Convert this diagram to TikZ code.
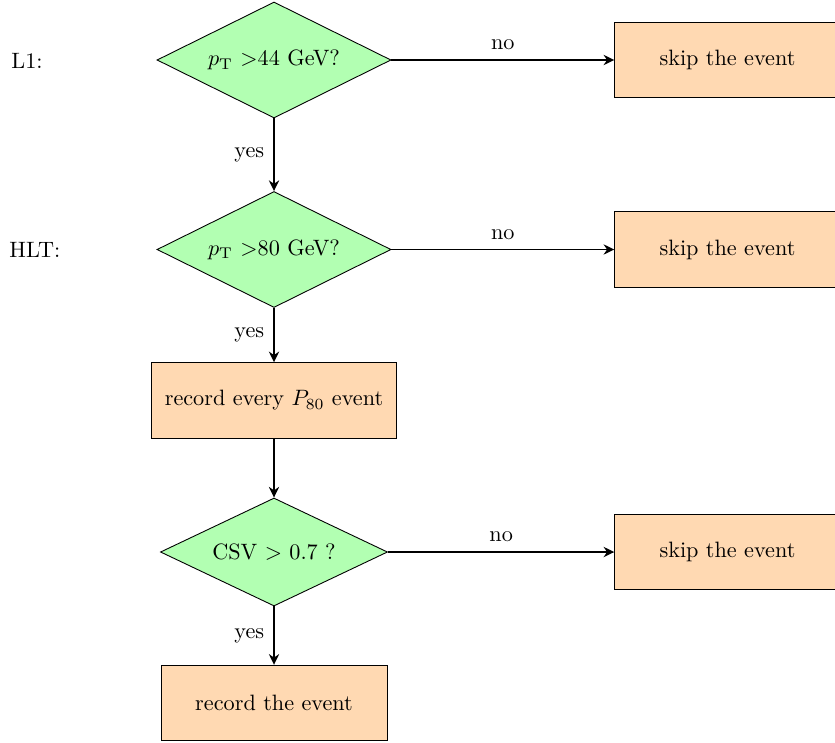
\documentclass[tikz,border=0pt]{standalone}
\usetikzlibrary{shapes.geometric,arrows.meta}
\definecolor{decfill}{RGB}{178,255,178}
\definecolor{boxfill}{RGB}{255,217,178}
\tikzset{
  decision/.style={diamond, draw, fill=decfill, inner sep=0pt, aspect=2},
  procbox/.style={rectangle, draw, fill=boxfill, inner sep=0pt, minimum height=34pt},
  flow/.style={thick, -{Stealth[length=4.8pt,width=4.6pt]}},
  lbl/.style={inner sep=1pt},
  level/.style={anchor=west, inner sep=0pt}
}
\begin{document}
\begin{tikzpicture}[x=0.45pt, y=-0.45pt]
  \useasboundingbox (0,0) rectangle (835,742);

  % level labels
  \node[level] (l1)  at (11,61)  {L1:};
  \node[level] (hlt) at (9,249.5) {HLT:};

  % decisions
  \node[decision, minimum width=105.3pt, minimum height=52.2pt] (d1) at (274,60)  {$p_{\mathrm{T}}$ >44 GeV?};
  \node[decision, minimum width=105.3pt, minimum height=52.2pt] (d2) at (274,249.5) {$p_{\mathrm{T}}$ >80 GeV?};
  \node[decision, minimum width=102.2pt, minimum height=48.6pt] (d3) at (274,552) {CSV $>$ 0.7 ?};

  % actions
  \node[procbox, minimum width=101.5pt] (s1) at (727.5,60)    {skip the event};
  \node[procbox, minimum width=101.5pt] (s2) at (727.5,249.5) {skip the event};
  \node[procbox, minimum width=101.5pt] (s3) at (727.5,552)   {skip the event};
  \node[procbox, minimum width=110.25pt] (r1) at (274,400.5) {record every $P_{80}$ event};
  \node[procbox, minimum width=101.7pt] (r2) at (274,703) {record the event};

  % connectors
  \draw[flow] (d1.east) -- node[lbl, above=3pt] {no} (s1.west);
  \draw[flow] (d2.east) -- node[lbl, above=3pt] {no} (s2.west);
  \draw[flow] (d3.east) -- node[lbl, above=3pt] {no} (s3.west);
  \draw[flow] (d1.south) -- node[lbl, left=3pt] {yes} (d2.north);
  \draw[flow] (d2.south) -- node[lbl, left=3pt] {yes} (r1.north);
  \draw[flow] (r1.south) -- (d3.north);
  \draw[flow] (d3.south) -- node[lbl, left=3pt] {yes} (r2.north);
\end{tikzpicture}
\end{document}
